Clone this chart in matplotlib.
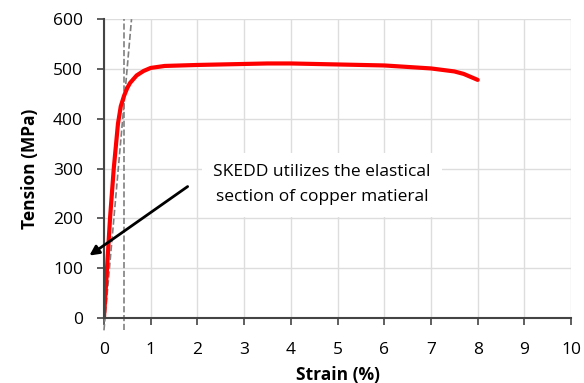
import matplotlib
matplotlib.use("Agg")
import matplotlib.pyplot as plt

plt.rcParams['font.family'] = ['Open Sans', 'DejaVu Sans']

# Stress-strain curve of copper
strain = [0, 0.05, 0.13, 0.21, 0.3, 0.36, 0.43, 0.5, 0.56, 0.7, 0.85, 1.0, 1.3, 2.0, 3.0,
          3.5, 4.0, 5.0, 6.0, 7.0, 7.5, 7.7, 8.0]
tension = [0, 75, 200, 300, 390, 425, 446, 462, 472, 487, 496, 502, 506, 508, 510,
           511, 511, 509, 507, 501, 495, 490, 478]

# Guide lines for the elastic section
guide_vert_x = [0.43, 0.43]
guide_vert_y = [-25, 600]
guide_slope_x = [0.0, 0.59]
guide_slope_y = [-25, 600]

fig = plt.figure(figsize=(5.84, 3.83), dpi=100)
ax = fig.add_axes([0.178, 0.170, 0.80, 0.780])

ax.plot(guide_vert_x, guide_vert_y, '--', color='#808080', lw=1.2, clip_on=False)
ax.plot(guide_slope_x, guide_slope_y, '--', color='#808080', lw=1.2, clip_on=False)
ax.plot(strain, tension, color='#ff0000', lw=3, solid_capstyle='round')

ax.set_xlim(0, 10)
ax.set_ylim(0, 600)
ax.set_xticks(range(0, 11))
ax.set_yticks(range(0, 601, 100))
ax.grid(True, color='#dddddd', lw=1)
ax.set_axisbelow(True)

for side in ['top', 'right']:
    ax.spines[side].set_visible(False)
for side in ['left', 'bottom']:
    ax.spines[side].set_color('#444444')
    ax.spines[side].set_linewidth(1.5)
ax.tick_params(length=5, width=1.2, color='#444444', labelsize=12.5)
ax.tick_params(axis='x', pad=12)
ax.tick_params(axis='y', pad=10)

ax.set_xlabel('Strain (%)', fontsize=12.5, fontweight='bold', labelpad=6)
ax.set_ylabel('Tension (MPa)', fontsize=12.5, fontweight='bold', labelpad=10)

# Annotation with arrow
ax.text(4.67, 267, 'SKEDD utilizes the elastical\nsection of copper matieral',
        ha='center', va='center', fontsize=12.5, linespacing=1.75,
        bbox=dict(facecolor='white', edgecolor='none', pad=8))
ax.annotate('', xy=(-0.36, 122), xytext=(1.84, 267), annotation_clip=False,
            arrowprops=dict(arrowstyle='-|>', color='black', lw=2,
                            mutation_scale=14))

fig.savefig('out.png', dpi=100)
